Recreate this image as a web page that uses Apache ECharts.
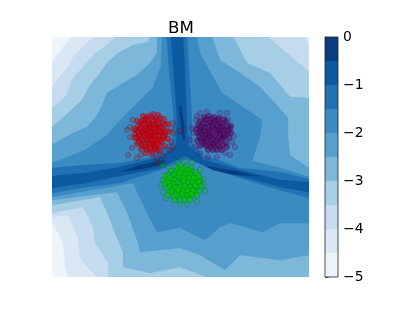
<!DOCTYPE html>
<html><head><meta charset="utf-8">
<style>html,body{margin:0;padding:0;background:#fff}#c{width:415px;height:312px}</style>
<script src="https://cdn.jsdelivr.net/npm/echarts@6/dist/echarts.min.js"></script></head>
<body><div id="c"></div>
<script>
const title = 'BM';
const levels = [-5,-4.5,-4,-3.5,-3,-2.5,-2,-1.5,-1,-0.5,0];
const colorTicks = [-5,-4,-3,-2,-1,0];
const band0 = [[52,37],[309,37],[309,277],[52,277]];
const band1 = [[72,37],[309,37],[309,277],[68,277],[65,265],[63,242],[52,222],[52,62],[58,54],[64,46]];
const band2 = [[93,37],[305,37],[309,45],[309,277],[97,277],[88,268],[80,258],[78,238],[73,226],[68,215],[52,217],[52,87],[57,80],[62,74],[68,67],[73,57],[83,47]];
const band3 = [[116,37],[268,37],[287,53],[309,72],[309,277],[108,277],[108,263],[101,252],[95,242],[93,227],[88,216],[83,207],[52,213],[52,108],[60,102],[65,97],[68,92],[73,78],[85,65],[95,53],[103,48]];
const band4 = [[150,37],[233,37],[240,50],[247,63],[270,73],[280,85],[290,97],[309,98],[309,277],[207,277],[180,267],[150,273],[123,267],[123,252],[117,238],[112,225],[106,210],[100,197],[52,205],[52,127],[68,113],[82,100],[90,85],[97,77],[107,63],[118,53],[133,45],[148,42]];
const band5 = [[157,37],[212,37],[220,60],[240,73],[260,87],[275,103],[288,118],[288,137],[290,155],[309,168],[309,255],[280,260],[240,255],[225,270],[200,255],[180,248],[140,252],[138,243],[132,226],[127,212],[117,192],[52,200],[52,145],[73,133],[87,127],[95,118],[100,110],[107,93],[120,85],[137,75],[150,63],[157,53]];
const band6 = [[162,37],[197,37],[200,53],[211,73],[222,93],[240,105],[262,120],[260,137],[252,161],[280,168],[309,177],[309,223],[280,223],[263,232],[230,223],[220,227],[205,240],[180,228],[157,232],[148,215],[140,198],[133,183],[52,197],[52,163],[85,150],[107,135],[123,117],[140,100],[153,87],[161,66]];
const band7 = [[167,37],[187,37],[189,70],[191,100],[192,125],[192,142],[203,155],[240,168],[280,172],[309,179],[309,198],[280,190],[240,178],[210,168],[187,159],[160,170],[120,183],[80,188],[52,193],[52,168],[85,165],[120,163],[148,158],[172,142],[174,120],[172,100],[169,70]];
const band8 = [[171,37],[183,37],[185,70],[186,100],[187,130],[188,145],[205,160],[240,170],[280,180],[309,182],[309,192],[280,187],[240,176],[205,166],[185,156],[160,168],[120,176],[85,183],[52,188],[52,176],[85,173],[120,167],[160,157],[176,145],[177,120],[175,90]];
const band9a = [[179,107],[181,106],[184,125],[185,140],[183,140],[181,125]];
const band9b = [[120,172],[140,165],[165,160],[163,164],[142,169]];
const band9c = [[205,166],[235,171],[258,176],[235,175],[213,170]];
const contourBands = [[0,band0],[1,band1],[2,band2],[3,band3],[4,band4],[5,band5],[6,band6],[7,band7],[8,band8],[9,band9a],[9,band9b],[9,band9c]];
const palette = ['#edf5fb','#dae8f6','#c6dbef','#a6cee4','#7db8da','#57a0ce','#3b8bc2','#2171b5','#0d5aa1','#083d7f'];

const redCore = [[146,118],[151,117],[156,119],[160,118],[141,122],[145,121],[149,123],[154,122],[158,121],[163,123],[138,126],[142,125],[147,127],[151,125],[156,127],[160,126],[165,125],[136,130],[140,129],[145,131],[149,129],[153,131],[158,130],[162,129],[166,131],[135,134],[139,135],[143,133],[148,135],[152,134],[156,135],[161,133],[165,135],[137,138],[141,139],[146,137],[150,139],[155,138],[159,139],[164,138],[139,142],[144,143],[148,141],[153,143],[157,142],[162,141],[142,146],[146,147],[151,145],[155,147],[160,146],[147,150],[152,151],[157,150],[143,120],[153,114],[148,116],
[148,120],[153,120],[144,124],[149,126],[154,125],[158,124],[141,128],[146,129],[151,128],[155,129],[160,128],[138,132],[143,131],[147,133],[151,132],[155,133],[160,131],[164,132],[140,136],[145,135],[150,136],[154,136],[158,136],[163,136],[142,140],[147,139],[152,140],[156,140],[160,141],[145,145],[150,144],[154,145],[158,144],[150,148],[155,149],
[134,129],[135,138],[137,144],[141,149],[146,153],[152,154],[160,151],[165,146],[168,139],[169,132],[168,124],[164,119],[158,115],[143,116],[137,121]];
const redStray = [[127,130],[130,127],[130,137],[128,155],[137,158],[157,158],[158,163],[163,156],[170,150],[173,147],[173,133],[173,123],[180,131],[171,128],[171,142],[133,120],[141,155],[132,148]];
const purpleCore = [[204,117],[209,116],[214,117],[219,118],[224,119],[200,121],[205,120],[210,122],[215,121],[220,123],[226,122],[198,125],[202,126],[207,124],[212,126],[217,125],[222,127],[228,126],[196,129],[201,130],[205,128],[210,130],[215,129],[220,131],[225,130],[230,129],[197,133],[202,134],[207,133],[212,134],[217,133],[222,135],[227,134],[231,133],[199,137],[204,138],[209,137],[214,139],[219,138],[224,137],[229,138],[202,142],[206,141],[211,143],[216,142],[221,141],[226,143],[206,146],[211,147],[215,146],[220,147],[213,150],[217,150],
[207,119],[212,119],[218,120],[203,123],[208,127],[213,123],[218,127],[223,124],[200,127],[204,131],[209,132],[213,128],[218,130],[223,129],[228,131],[200,132],[205,135],[210,136],[215,135],[220,134],[225,136],[201,139],[207,139],[212,140],[217,140],[222,139],[204,144],[209,145],[213,144],[218,145],[223,145],[197,141],[200,146],[208,150],[222,150],[227,147],[231,126]];
const purpleStray = [[194,133],[190,140],[192,128],[200,113],[207,112],[196,120],[200,153],[208,157],[217,157],[225,153],[230,155],[235,147],[232,142],[228,120],[227,113],[220,113],[195,147],[234,136],[197,116]];
const greenCore = [[176,167],[181,166],[186,167],[191,168],[171,171],[176,171],[181,170],[186,172],[191,171],[196,172],[168,175],[173,176],[178,174],[183,176],[188,175],[193,176],[198,175],[166,179],[171,180],[176,178],[181,180],[186,179],[191,180],[196,179],[200,181],[165,184],[170,183],[175,185],[180,184],[185,183],[190,185],[195,184],[200,183],[167,188],[172,189],[177,187],[182,189],[187,188],[192,189],[197,187],[170,192],[175,193],[180,191],[185,193],[190,192],[195,192],[174,196],[179,197],[184,196],[189,197],[193,195],[180,200],[185,200],[178,169],[183,169],
[188,170],[174,174],[180,173],[185,174],[190,174],[170,178],[174,180],[179,177],[184,178],[189,178],[194,178],[168,182],[173,183],[178,182],[183,181],[188,182],[193,182],[198,182],[170,186],[175,188],[180,187],[185,186],[190,187],[195,186],[172,191],[178,190],[183,191],[188,191],[193,190],[177,195],[182,194],[187,195],[191,194],[165,176],[199,177],[201,186],[199,191],[197,195],[168,195],[174,200],[190,200]];
const greenStray = [[163,180],[200,170],[162,165],[161,185],[163,192],[166,198],[180,204],[187,204],[197,202],[204,185],[203,179],[192,162],[185,161],[178,162],[168,167],[205,191]];

const xMin = 52, xMax = 309, yMin = 37, yMax = 277;
const chart = echarts.init(document.getElementById('c'), null, {renderer:'canvas'});

const markerSize = 5.6;
const scatter = (name, pts, fill, edge) => ({
  type:'scatter', name, data:pts, xAxisIndex:0, yAxisIndex:0, symbol:'circle', symbolSize:markerSize, z:5, silent:true,
  animation:false,
  itemStyle:{color:fill, borderColor:edge, borderWidth:0.6}
});

chart.setOption({
  animation:false,
  backgroundColor:'#fff',
  title:{text:title,left:176,top:15,textAlign:'center',textStyle:{fontFamily:'DejaVu Sans',fontSize:16.7,fontWeight:'normal',color:'#000'}},
  grid:[
    {left:xMin,top:yMin,width:xMax-xMin,height:yMax-yMin,show:false},
    {left:325,top:37,width:13,height:240,show:true,backgroundColor:'transparent',borderColor:'#222',borderWidth:0.8,z:6}
  ],
  xAxis:[
    {gridIndex:0,type:'value',min:xMin,max:xMax,show:false},
    {gridIndex:1,type:'value',min:0,max:1,show:false}
  ],
  yAxis:[
    {gridIndex:0,type:'value',min:yMin,max:yMax,inverse:true,show:false},
    {gridIndex:1,type:'value',min:-5,max:0,interval:1,position:'right',
     axisLine:{show:true,lineStyle:{color:'#222',width:0.8}},
     axisTick:{show:true,length:3.5,lineStyle:{color:'#222',width:0.8}},
     splitLine:{show:false},
     axisLabel:{margin:5,padding:[5,0,0,0],color:'#000',fontFamily:'DejaVu Sans',fontSize:13.9,
       formatter:v=>colorTicks.includes(v)?String(v).replace('-','\u2212'):''}}
  ],
  series:[
    {type:'custom',xAxisIndex:0,yAxisIndex:0,silent:true,animation:false,z:1,clip:true,
     data:contourBands.map((b,i)=>[i]),
     encode:{x:0},
     renderItem(params,api){
       const b=contourBands[api.value(0)];
       return {type:'polygon',shape:{points:b[1].map(p=>api.coord(p))},
         style:{fill:palette[b[0]],stroke:palette[b[0]],lineWidth:0.3}};
     }},
    {type:'custom',xAxisIndex:1,yAxisIndex:1,silent:true,animation:false,z:1,
     data:palette.map((c,i)=>[i]),
     encode:{x:0},
     renderItem(params,api){
       const i=api.value(0);
       const a=api.coord([0,levels[i+1]]), b=api.coord([1,levels[i]]);
       return {type:'rect',shape:{x:a[0],y:a[1],width:b[0]-a[0],height:b[1]-a[1]},style:{fill:palette[i]}};
     }},
    scatter('redStray',redStray,'rgba(200,0,0,0.3)','rgba(20,20,40,0.4)'),
    scatter('red',redCore,'rgba(220,0,10,0.72)','rgba(60,0,20,0.4)'),
    scatter('purpleStray',purpleStray,'rgba(120,0,120,0.3)','rgba(20,20,40,0.4)'),
    scatter('purple',purpleCore,'rgba(95,0,95,0.72)','rgba(30,0,40,0.4)'),
    scatter('greenStray',greenStray,'rgba(0,200,0,0.35)','rgba(20,60,40,0.4)'),
    scatter('green',greenCore,'rgba(0,205,0,0.75)','rgba(0,70,0,0.4)')
  ]
});
</script></body></html>
